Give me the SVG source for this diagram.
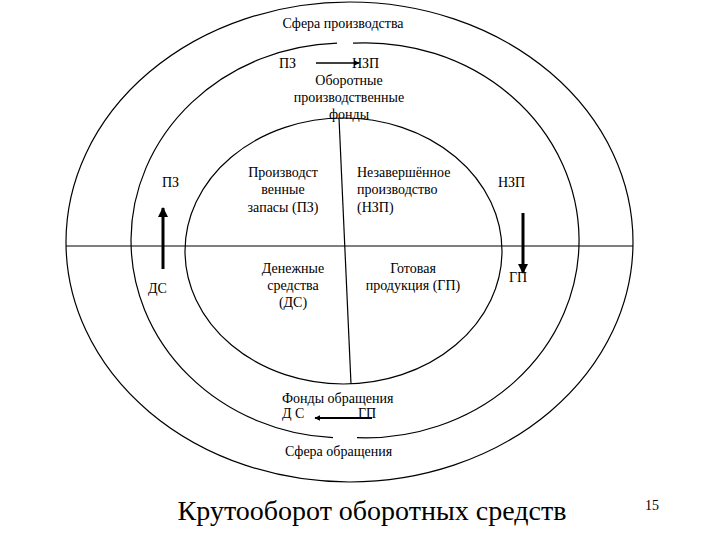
<svg xmlns="http://www.w3.org/2000/svg" width="720" height="540" viewBox="0 0 720 540">
<style>
.ln{fill:none;stroke:#000;stroke-width:1.2}
.m{text-anchor:middle}
</style>
<defs>
<marker id="ah" viewBox="0 0 10 10" refX="9" refY="5" markerWidth="6" markerHeight="6" orient="auto" markerUnits="userSpaceOnUse">
<path d="M0,0 L10,5 L0,10 z" fill="#000"/>
</marker>
<marker id="ahb" viewBox="0 0 10 10" refX="9" refY="5" markerWidth="3.5" markerHeight="3.5" orient="auto">
<path d="M0,0 L10,5 L0,10 z" fill="#000"/>
</marker>
</defs>
<rect width="720" height="540" fill="#fff"/>
<g id="outer">
<ellipse class="ln" cx="349.5" cy="242" rx="283.5" ry="240"/>
</g>
<g id="middle">
<path class="ln" d="M337,43.12 A213.5,197.5 0 0,0 333,437.71"/>
<path class="ln" d="M353,43.16 A213.5,197.5 0 1,1 357,437.66"/>
</g>
<g id="inner">
<ellipse class="ln" cx="343.5" cy="251" rx="158.5" ry="133"/>
</g>
<g id="connectors">
<line class="ln" x1="66" y1="246" x2="633" y2="246"/>
<line class="ln" x1="339" y1="118" x2="351" y2="384"/>
<line x1="163" y1="269" x2="163" y2="208" stroke="#000" stroke-width="3" marker-end="url(#ahb)"/>
<line x1="523" y1="213" x2="523" y2="273" stroke="#000" stroke-width="3" marker-end="url(#ahb)"/>
<line x1="316" y1="63" x2="359" y2="63" stroke="#000" stroke-width="1.3" marker-end="url(#ah)"/>
<line x1="372" y1="418" x2="315" y2="418" stroke="#000" stroke-width="2" marker-end="url(#ah)"/>
</g>
<g font-family="'Liberation Serif', 'Times New Roman', serif" font-size="14" fill="#000">
<g id="labels">
<text class="m" x="343" y="28">Сфера производства</text>
<text x="279" y="68">ПЗ</text>
<text x="352" y="68">НЗП</text>
<text class="m" x="349" y="85">Оборотные</text>
<text class="m" x="349" y="102">производственные</text>
<text class="m" x="349" y="119">фонды</text>
<text x="162" y="187">ПЗ</text>
<text x="148" y="293">ДС</text>
<text x="498" y="187">НЗП</text>
<text x="509" y="282">ГП</text>
</g>
<g id="pz">
<text class="m" x="283" y="177">Производст</text>
<text class="m" x="283" y="194">венные</text>
<text class="m" x="283" y="212">запасы (ПЗ)</text>
</g>
<g id="nzp">
<text x="357" y="177">Незавершённое</text>
<text x="357" y="194">производство</text>
<text x="357" y="212">(НЗП)</text>
</g>
<g id="ds">
<text class="m" x="293" y="273">Денежные</text>
<text class="m" x="293" y="290">средства</text>
<text class="m" x="293" y="307">(ДС)</text>
</g>
<g id="gp">
<text class="m" x="413" y="273">Готовая</text>
<text class="m" x="413" y="290">продукция (ГП)</text>
</g>
<g id="circulation">
<text x="282" y="403">Фонды обращения</text>
<text x="282" y="418">Д С</text>
<text x="358" y="418">ГП</text>
<text x="285" y="456">Сфера обращения</text>
</g>
<g id="title">
<text class="m" x="372" y="520" font-size="28">Крутооборот оборотных средств</text>
<text x="645" y="510">15</text>
</g>
</g>
</svg>
